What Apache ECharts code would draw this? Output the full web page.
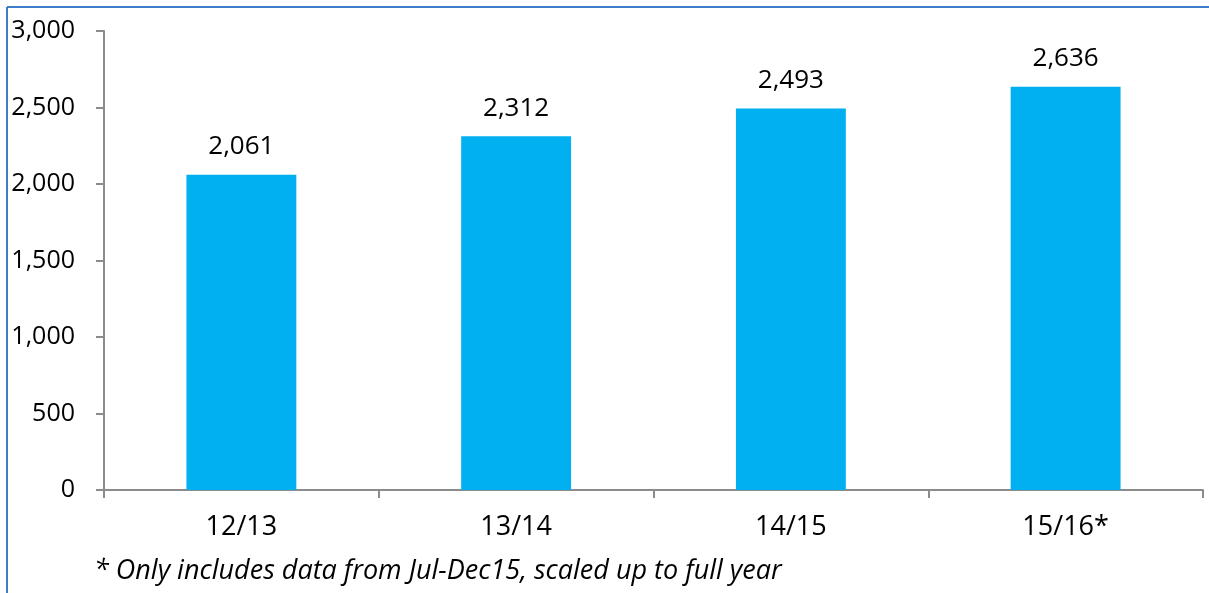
<!DOCTYPE html>
<html>
<head>
<meta charset="utf-8">
<style>
html,body{margin:0;padding:0;background:#fff;}
#chart{width:1209px;height:593px;}
</style>
<script src="https://cdn.jsdelivr.net/npm/echarts@6/dist/echarts.min.js"></script>
</head>
<body>
<div id="chart"></div>
<script>
const categories = ['12/13', '13/14', '14/15', '15/16*'];
const values = [2061, 2312, 2493, 2636];
const yTicks = { min: 0, max: 3000, interval: 500 };
const footnote = '* Only includes data from Jul-Dec15, scaled up to full year';

const chart = echarts.init(document.getElementById('chart'));
const axisGray = '#8c8c8c';
const font = '"Open Sans", sans-serif';
chart.setOption({
  animation: false,
  grid: { left: 104, right: 6, top: 31, bottom: 103 },
  xAxis: {
    type: 'category',
    data: categories,
    axisLine: { lineStyle: { color: axisGray, width: 2 } },
    axisTick: { show: true, length: 8, alignWithLabel: false, lineStyle: { color: axisGray, width: 2 } },
    axisLabel: { color: '#000', fontSize: 27, fontFamily: font, margin: 24 }
  },
  yAxis: {
    type: 'value',
    min: yTicks.min, max: yTicks.max, interval: yTicks.interval,
    axisLine: { show: true, lineStyle: { color: axisGray, width: 2 } },
    axisTick: { show: true, length: 8, lineStyle: { color: axisGray, width: 2 } },
    splitLine: { show: false },
    axisLabel: {
      color: '#000', fontSize: 25, fontFamily: font, margin: 29,
      formatter: v => v.toLocaleString('en-US')
    }
  },
  series: [{
    type: 'bar',
    data: values,
    barWidth: '40%',
    itemStyle: { color: '#00B0F0' },
    label: {
      show: true, position: 'top', distance: 15,
      color: '#000', fontSize: 26, fontFamily: font,
      formatter: p => p.value.toLocaleString('en-US')
    }
  }],
  graphic: [
    { type: 'line', shape: { x1: 7, y1: 7, x2: 1209, y2: 7 }, style: { stroke: '#3d7cc9', lineWidth: 2 } },
    { type: 'line', shape: { x1: 7, y1: 7, x2: 7, y2: 593 }, style: { stroke: '#3d7cc9', lineWidth: 2 } },
    { type: 'text', left: 94, top: 558, style: { text: footnote, fill: '#000', fontSize: 27, fontStyle: 'italic', fontFamily: font } }
  ]
});
</script>
</body>
</html>
